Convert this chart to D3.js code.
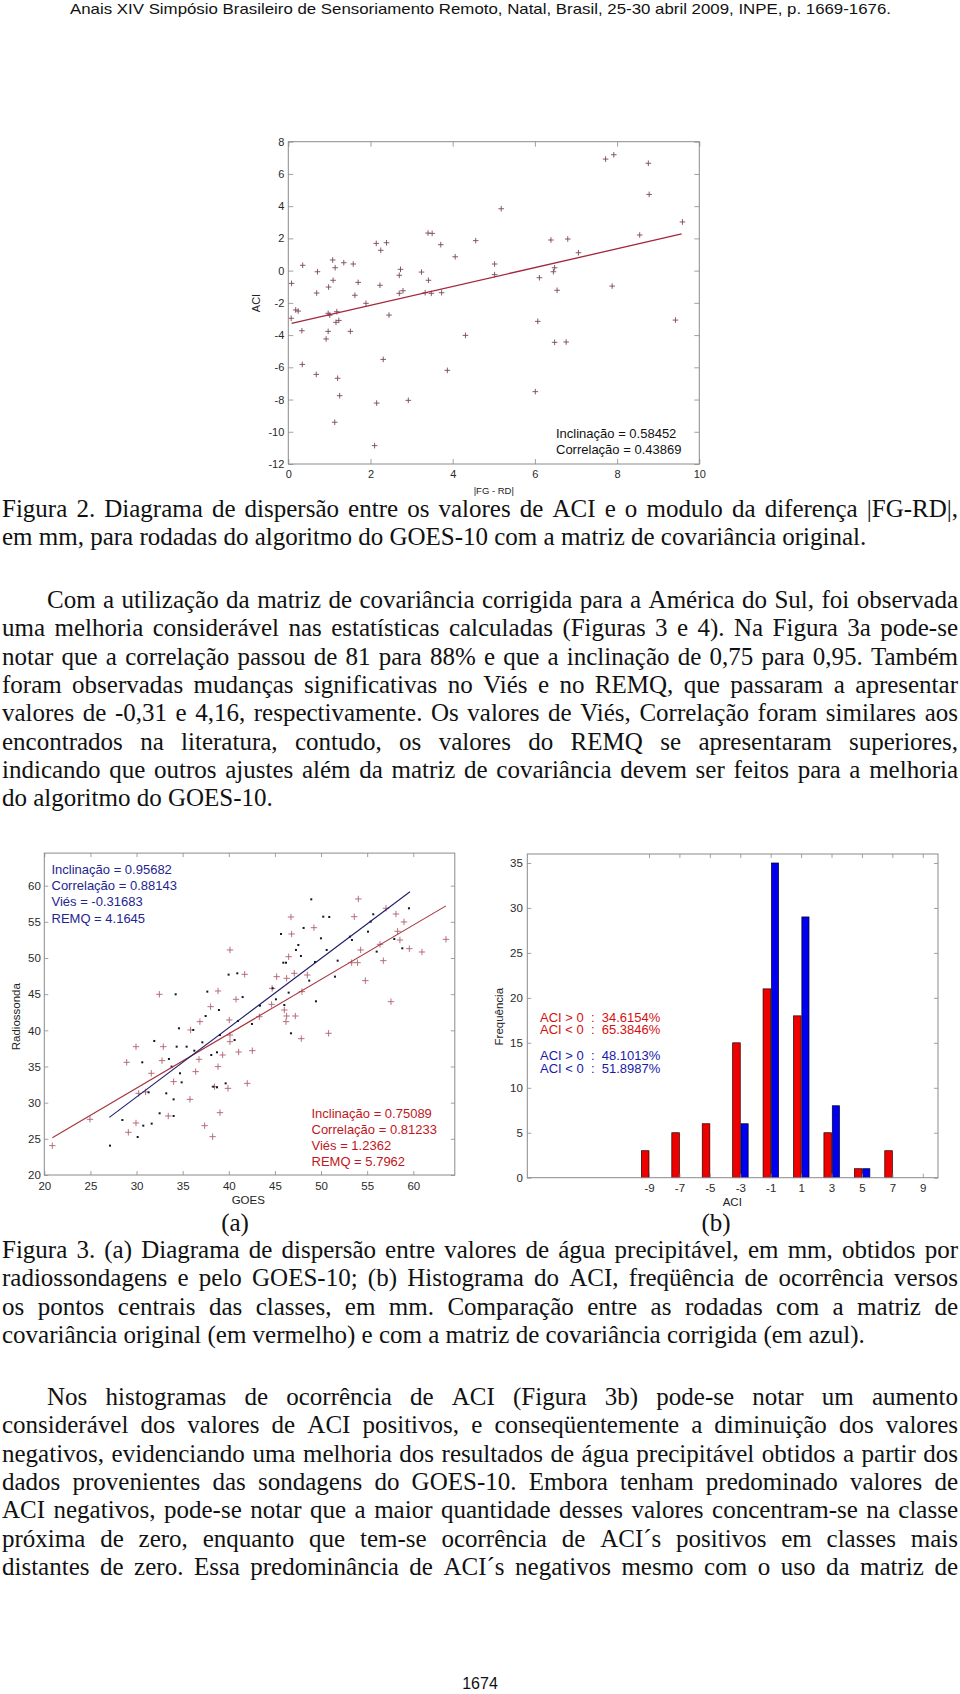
<!DOCTYPE html>
<html><head><meta charset="utf-8">
<script src="https://cdn.jsdelivr.net/npm/d3@7"></script>
<style>body{margin:0;background:#fff}svg{display:block}</style>
</head><body>
<svg id="page" width="960" height="1694"></svg>
<script>
// ---------------- DATA ----------------
// Figura 2: |FG-RD| vs ACI
const fgrd = [7.72,7.92,8.76,8.78,5.18,9.59,8.55,6.39,6.80,4.56,3.40,3.50,3.71,2.14,2.39,2.25,4.06,7.06,1.08,1.14,1.35,1.58,0.35,0.71,2.73,2.70,3.24,5.02,5.02,6.48,6.45,6.11,0.08,1.09,1.70,0.98,2.23,3.41,7.88,0.69,1.62,2.70,2.79,3.33,3.48,3.73,6.54,1.89,0.18,0.24,0.97,1.01,1.18,0.07,2.45,1.16,1.23,6.07,9.42,0.33,0.97,1.51,0.92,4.31,6.48,6.76,2.31,0.34,3.87,0.68,1.20,1.25,6.01,2.15,2.92,1.13,2.10];
const aci  = [6.92,7.19,6.66,4.73,3.84,3.02,2.21,1.90,1.96,1.86,2.33,2.31,1.61,1.69,1.73,1.26,0.86,1.11,0.66,0.18,0.49,0.41,0.33,-0.07,0.08,-0.29,-0.09,0.41,-0.25,0.18,-0.07,-0.44,-0.79,-0.60,-0.73,-1.02,-0.91,-0.60,-0.96,-1.39,-1.53,-1.41,-1.25,-1.37,-1.41,-1.37,-1.22,-2.03,-2.44,-2.51,-2.65,-2.76,-2.55,-2.96,-2.76,-3.21,-3.09,-3.15,-3.07,-3.73,-3.77,-3.77,-4.24,-4.02,-4.45,-4.43,-5.51,-5.82,-6.19,-6.44,-6.68,-7.76,-7.51,-8.22,-8.05,-9.41,-10.86];
const fig2Slope = 0.58452, fig2Intercept = -3.32, fig2Range = [0.08, 9.57];
const fig2Stats = ["Inclinação = 0.58452", "Correlação = 0.43869"];
const fig2XTicks = [0,2,4,6,8,10];
const fig2YTicks = [-12,-10,-8,-6,-4,-2,0,2,4,6,8];

// Figura 3a: GOES vs Radiossonda — original (red +) and corrected (dots)
const goesOrig  = [20.87,24.95,28.93,29.11,29.94,29.94,30.23,30.98,31.60,32.47,32.76,32.90,33.44,34.02,35.86,35.79,36.41,36.77,36.87,37.38,38.03,38.25,38.46,38.83,38.83,39.04,39.33,39.91,40.05,40.13,40.13,40.13,40.78,41.07,41.72,42.00,42.55,43.31,44.64,45.19,46.02,46.20,46.27,46.27,46.49,46.74,46.81,47.10,47.21,47.86,47.93,48.51,49.23,50.82,53.32,53.60,53.96,54.04,54.29,54.80,56.39,56.75,57.04,57.58,58.12,58.30,58.55,58.99,59.57,60.94,63.54,44.70];
const radioOrig = [24.06,27.70,35.58,25.90,27.19,37.74,31.29,31.48,34.06,44.98,35.81,37.74,28.16,32.91,40.05,30.46,34.29,35.99,41.20,26.82,43.27,25.30,32.21,45.44,34.98,28.62,36.59,31.98,41.43,51.11,38.43,39.35,44.29,37.00,47.74,32.67,37.19,41.88,43.59,47.42,42.81,41.20,41.98,47.19,50.18,55.67,53.32,47.88,41.98,38.85,45.35,47.65,54.19,39.59,49.35,55.71,49.35,58.16,51.11,46.87,51.89,49.63,56.87,43.96,56.08,53.69,52.49,54.98,51.29,50.83,52.58,45.80];
const goesCorr  = [27.12,28.46,30.12,30.73,30.62,31.31,31.64,31.92,32.50,33.22,33.51,33.80,34.02,34.02,34.24,34.35,34.60,34.71,34.89,35.43,36.15,36.26,37.13,37.49,37.67,38.10,38.32,38.72,38.72,38.93,39.04,39.66,39.98,40.63,40.92,40.99,41.50,42.51,43.38,44.75,45.11,45.66,45.91,46.20,46.02,46.49,46.74,47.28,47.54,47.82,48.11,48.72,48.94,49.45,49.34,49.99,50.24,50.61,50.89,51.51,51.80,53.13,53.35,55.09,55.38,55.66,56.03,57.94,58.81,59.53];
const radioCorr = [24.06,27.60,25.25,26.82,35.58,31.43,27.10,38.53,28.53,31.29,36.04,34.98,30.46,28.16,44.98,37.74,40.28,34.06,32.81,37.74,40.05,37.19,38.34,41.98,45.35,36.59,32.21,32.12,36.96,42.81,39.35,32.67,47.70,38.66,47.88,41.29,44.60,40.88,43.41,45.81,44.29,53.32,49.35,49.35,43.50,45.21,39.59,51.11,51.80,50.28,54.15,46.87,58.11,44.01,49.45,52.72,55.71,51.11,55.67,47.42,49.63,52.95,52.49,53.64,55.02,56.04,50.88,52.63,51.34,56.87];
const fitOrig = {slope:0.75089, intercept:9.49, range:[20.87,63.54]};
const fitCorr = {slope:0.95682, intercept:2.09, range:[27.05,59.64]};
const statsCorr = ["Inclinação = 0.95682","Correlação = 0.88143","Viés = -0.31683","REMQ = 4.1645"];
const statsOrig = ["Inclinação = 0.75089","Correlação = 0.81233","Viés = 1.2362","REMQ = 5.7962"];
const fig3aTicks = [20,25,30,35,40,45,50,55,60];

// Figura 3b: histogram of ACI
const aciClasses = [-9,-7,-5,-3,-1,1,3,5,7,9];
const freqOrig = [3,5,6,15,21,18,5,1,3,0];
const freqCorr = [0,0,0,6,35,29,8,1,0,0];
const histStatsOrig = ["ACI > 0  :  34.6154%","ACI < 0  :  65.3846%"];
const histStatsCorr = ["ACI > 0  :  48.1013%","ACI < 0  :  51.8987%"];
const histYTicks = [0,5,10,15,20,25,30,35];

// Text
const header = "Anais XIV Simpósio Brasileiro de Sensoriamento Remoto, Natal, Brasil, 25-30 abril 2009, INPE, p. 1669-1676.";
const caption2 = ["Figura 2. Diagrama de dispersão entre os valores de ACI e o modulo da diferença |FG-RD|,",
 "em mm, para rodadas do algoritmo do GOES-10 com a matriz de covariância original."];
const para1 = ["Com a utilização da matriz de covariância corrigida para a América do Sul, foi observada",
 "uma melhoria considerável nas estatísticas calculadas (Figuras 3 e 4). Na Figura 3a pode-se",
 "notar que a correlação passou de 81 para 88% e que a inclinação de 0,75 para 0,95. Também",
 "foram observadas mudanças significativas no Viés e no REMQ, que passaram a apresentar",
 "valores de -0,31 e 4,16, respectivamente. Os valores de Viés, Correlação foram similares aos",
 "encontrados na literatura, contudo, os valores do REMQ se apresentaram superiores,",
 "indicando que outros ajustes além da matriz de covariância devem ser feitos para a melhoria",
 "do algoritmo do GOES-10."];
const caption3 = ["Figura 3. (a) Diagrama de dispersão entre valores de água precipitável, em mm, obtidos por",
 "radiossondagens e pelo GOES-10; (b) Histograma do ACI, freqüência de ocorrência versos",
 "os pontos centrais das classes, em mm. Comparação entre as rodadas com a matriz de",
 "covariância original (em vermelho) e com a matriz de covariância corrigida (em azul)."];
const para2 = ["Nos histogramas de ocorrência de ACI (Figura 3b) pode-se notar um aumento",
 "considerável dos valores de ACI positivos, e conseqüentemente a diminuição dos valores",
 "negativos, evidenciando uma melhoria dos resultados de água precipitável obtidos a partir dos",
 "dados provenientes das sondagens do GOES-10. Embora tenham predominado valores de",
 "ACI negativos, pode-se notar que a maior quantidade desses valores concentram-se na classe",
 "próxima de zero, enquanto que tem-se ocorrência de ACI´s positivos em classes mais",
 "distantes de zero. Essa predominância de ACI´s negativos mesmo com o uso da matriz de"];

// ---------------- DRAWING ----------------
const svg = d3.select('#page');
const SANS = "'Liberation Sans', Arial, Helvetica, sans-serif";
const SERIF = "'Liberation Serif', 'Times New Roman', serif";
const fmt = d => String(d);

function frame(g, x, y, xt, yt, o) {
  const [x0,x1] = x.range(), [yb,yt0] = y.range();
  const t = o.tick || 4;
  const style = sel => { sel.select('.domain').remove();
    sel.selectAll('line').attr('stroke', o.stroke).attr('stroke-width',0.8);
    sel.selectAll('text').attr('fill', o.label).attr('font-family', SANS).attr('font-size', o.fs); };
  g.append('g').attr('transform',`translate(0,${yb})`)
    .call(d3.axisBottom(x).tickValues(xt).tickSizeInner(-t).tickSizeOuter(0).tickPadding(o.xpad).tickFormat(fmt)).call(style);
  g.append('g').attr('transform',`translate(0,${yt0})`)
    .call(d3.axisTop(x).tickValues(xt).tickSizeInner(-t).tickSizeOuter(0).tickFormat(()=>'')).call(style);
  g.append('g').attr('transform',`translate(${x0},0)`)
    .call(d3.axisLeft(y).tickValues(yt).tickSizeInner(-t).tickSizeOuter(0).tickPadding(o.ypad).tickFormat(fmt)).call(style);
  g.append('g').attr('transform',`translate(${x1},0)`)
    .call(d3.axisRight(y).tickValues(yt).tickSizeInner(-t).tickSizeOuter(0).tickFormat(()=>'')).call(style);
  g.append('rect').attr('x',x0).attr('y',yt0).attr('width',x1-x0).attr('height',yb-yt0)
    .attr('fill','none').attr('stroke',o.stroke).attr('stroke-width',1);
}
function plus(g, pts, x, y, r, color) {
  g.selectAll(null).data(pts).join('path')
    .attr('d', d => `M${x(d[0])-r},${y(d[1])}H${x(d[0])+r}M${x(d[0])},${y(d[1])-r}V${y(d[1])+r}`)
    .attr('stroke', color).attr('stroke-width',0.9).attr('fill','none');
}

// ---- Header
svg.append('text').attr('x',70).attr('y',14).attr('font-family',SANS).attr('font-size',15)
  .attr('textLength',821).attr('lengthAdjust','spacingAndGlyphs').attr('fill','#111').text(header);

// ---- Figura 2
{
  const g = svg.append('g');
  const x = d3.scaleLinear().domain([0,10]).range([288.3,699.3]);
  const y = d3.scaleLinear().domain([-12,8]).range([464,141.7]);
  const pts = fgrd.map((v,i)=>[v, aci[i]]);
  plus(g, pts, x, y, 2.8, '#7d4656');
  const lx = d3.line().x(d=>x(d)).y(d=>y(fig2Slope*d+fig2Intercept));
  g.append('path').attr('d', lx(fig2Range)).attr('stroke','#a3283a').attr('stroke-width',1.3).attr('fill','none');
  frame(g, x, y, fig2XTicks, fig2YTicks, {stroke:'#8a8a8a', label:'#2a2a2a', fs:11, xpad:6, ypad:4, tick:5});
  g.append('text').attr('transform',`translate(260,303) rotate(-90)`).attr('text-anchor','middle')
    .attr('font-family',SANS).attr('font-size',11).attr('fill','#222').text('ACI');
  g.append('text').attr('x',493.8).attr('y',494).attr('text-anchor','middle')
    .attr('font-family',SANS).attr('font-size',9.5).attr('fill','#222').text('|FG - RD|');
  g.selectAll('.st').data(fig2Stats).join('text').attr('x',556).attr('y',(d,i)=>438+i*16)
    .attr('font-family',SANS).attr('font-size',13).attr('fill','#111').text(d=>d);
}

// ---- Figura 3a
{
  const g = svg.append('g');
  const x = d3.scaleLinear().domain([20,64.5]).range([44.3,454.8]);
  const y = d3.scaleLinear().domain([20,64.5]).range([1175,853.1]);
  plus(g, goesOrig.map((v,i)=>[v,radioOrig[i]]), x, y, 3.2, '#b0606e');
  g.selectAll('.dot').data(goesCorr.map((v,i)=>[v,radioCorr[i]])).join('rect')
    .attr('x',d=>x(d[0])-1).attr('y',d=>y(d[1])-1).attr('width',2).attr('height',2).attr('fill','#141428');
  const ln = f => d3.line().x(d=>x(d)).y(d=>y(f.slope*d+f.intercept))(f.range);
  g.append('path').attr('d', ln(fitOrig)).attr('stroke','#a8343f').attr('stroke-width',1.1).attr('fill','none');
  g.append('path').attr('d', ln(fitCorr)).attr('stroke','#1c1c6a').attr('stroke-width',1.1).attr('fill','none');
  frame(g, x, y, fig3aTicks, fig3aTicks, {stroke:'#8a8a8a', label:'#2a2a2a', fs:11.5, xpad:7, ypad:3.5, tick:4});
  g.append('text').attr('transform',`translate(20,1016.7) rotate(-90)`).attr('text-anchor','middle')
    .attr('font-family',SANS).attr('font-size',11.5).attr('fill','#222').text('Radiossonda');
  g.append('text').attr('x',248.3).attr('y',1204).attr('text-anchor','middle')
    .attr('font-family',SANS).attr('font-size',11.5).attr('fill','#222').text('GOES');
  g.selectAll('.sc').data(statsCorr).join('text').attr('x',51.5).attr('y',(d,i)=>874+i*16.2)
    .attr('font-family',SANS).attr('font-size',13).attr('fill','#252590').text(d=>d);
  g.selectAll('.so').data(statsOrig).join('text').attr('x',311.5).attr('y',(d,i)=>1117.5+i*16.2)
    .attr('font-family',SANS).attr('font-size',13).attr('fill','#bf1622').text(d=>d);
}

// ---- Figura 3b
{
  const g = svg.append('g');
  const x = d3.scaleLinear().domain([-17,10]).range([527.3,938]);
  const y = d3.scaleLinear().domain([0,36]).range([1177.7,854]);
  g.selectAll('.ro').data(aciClasses.map((c,i)=>[c,freqOrig[i]]).filter(d=>d[1]>0)).join('rect')
    .attr('x',d=>x(d[0]-0.5)).attr('width',d=>x(d[0])-x(d[0]-0.5)).attr('y',d=>y(d[1])).attr('height',d=>y(0)-y(d[1]))
    .attr('fill','#ee0000').attr('stroke','#220000').attr('stroke-width',0.7);
  g.selectAll('.bl').data(aciClasses.map((c,i)=>[c,freqCorr[i]]).filter(d=>d[1]>0)).join('rect')
    .attr('x',d=>x(d[0]+0.05)).attr('width',d=>x(d[0]+0.52)-x(d[0]+0.05)).attr('y',d=>y(d[1])).attr('height',d=>y(0)-y(d[1]))
    .attr('fill','#0000ee').attr('stroke','#000022').attr('stroke-width',0.7);
  frame(g, x, y, aciClasses, histYTicks, {stroke:'#8a8a8a', label:'#2a2a2a', fs:11.5, xpad:6, ypad:4.5, tick:4});
  g.append('text').attr('transform',`translate(503,1016.7) rotate(-90)`).attr('text-anchor','middle')
    .attr('font-family',SANS).attr('font-size',11.5).attr('fill','#222').text('Frequência');
  g.append('text').attr('x',732.3).attr('y',1205.5).attr('text-anchor','middle')
    .attr('font-family',SANS).attr('font-size',11.5).attr('fill','#222').text('ACI');
  g.selectAll('.ho').data(histStatsOrig).join('text').attr('x',540).attr('y',(d,i)=>1021.5+i*12.7)
    .attr('font-family',SANS).attr('font-size',13).attr('fill','#d41010').style('white-space','pre').text(d=>d);
  g.selectAll('.hc').data(histStatsCorr).join('text').attr('x',540).attr('y',(d,i)=>1059.8+i*12.7)
    .attr('font-family',SANS).attr('font-size',13).attr('fill','#1a1aa8').style('white-space','pre').text(d=>d);
}

// ---- Body text
const FS = 25, LEFT = 2, RIGHT = 958, LH = 28.35;
const body = svg.append('g').attr('font-family',SERIF).attr('font-size',FS).attr('fill','#111');
function textLine(str, x0, baseY, justify) {
  if (!justify) { body.append('text').attr('x',x0).attr('y',baseY).text(str); return; }
  const words = str.split(' ');
  const nodes = words.map(w => body.append('text').attr('y',baseY).text(w));
  const widths = nodes.map(n => n.node().getComputedTextLength());
  const sum = d3.sum(widths), avail = RIGHT - x0, minGap = FS*0.18;
  let gap = (avail - sum)/(words.length-1), s = 1;
  if (gap < minGap) { s = (avail - minGap*(words.length-1))/sum; gap = minGap; }
  let xx = x0;
  nodes.forEach((n,i) => { n.attr('x',xx);
    if (s !== 1) n.attr('textLength',widths[i]*s).attr('lengthAdjust','spacingAndGlyphs');
    xx += widths[i]*s + gap; });
}
function paragraph(lines, firstY, indent, lastJust) {
  lines.forEach((l,i) => {
    const isLast = i === lines.length-1;
    const x0 = i === 0 ? LEFT + indent : LEFT;
    textLine(l, x0, firstY + i*LH, !(isLast && !lastJust));
  });
}
paragraph(caption2, 517, 0, false);
paragraph(para1, 608, 45, false);
paragraph(caption3, 1258, 0, false);
paragraph(para2, 1405, 45, true);

body.append('text').attr('x',235).attr('y',1231).attr('text-anchor','middle').text('(a)');
body.append('text').attr('x',716).attr('y',1231).attr('text-anchor','middle').text('(b)');
svg.append('text').attr('x',480).attr('y',1689).attr('text-anchor','middle').attr('font-family',SANS)
  .attr('font-size',16).attr('fill','#111').text('1674');
</script>
</body></html>
